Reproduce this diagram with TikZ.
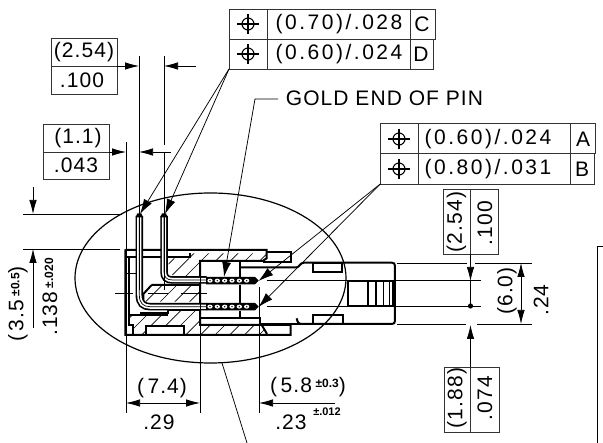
\documentclass[tikz,border=0pt]{standalone}
\usepackage{fontspec}
\setmainfont{Liberation Sans}[LetterSpace=5]
\newfontfamily\widefont{Liberation Sans}[LetterSpace=12]
\newfontfamily\tolfont{Liberation Sans}
\usetikzlibrary{arrows.meta}
\tikzset{
  txt/.style={inner sep=0pt,font=\fontsize{21}{21}\selectfont},
  fcftxt/.style={inner sep=0pt,font=\widefont\fontsize{21}{21}\selectfont},
  vtxt/.style={txt,rotate=90},
  boxline/.style={draw=black!80,line width=0.8pt},
  dimhead/.style={-{Latex[length=14pt,width=7.5pt]}},
  wedge/.style={-{Latex[length=15pt,width=9pt]}},
  heavy/.style={draw=black,line width=2pt},
  thinl/.style={draw=black,line width=0.75pt},
  hatchl/.style={draw=black,line width=0.7pt},
  ellipseline/.style={draw=black,line width=1.2pt},
}
\newcommand{\tolmark}[2]{%
  \draw[line width=1.1pt] (#1,#2) circle (6);
  \draw[line width=1.1pt] (#1-11,#2) -- (#1+11,#2) (#1,#2-10) -- (#1,#2+10);}
\newcommand{\hatchregion}[1]{%
  \begin{scope}
    \clip #1 -- cycle;
    \foreach \k in {-400,-356,...,1000} {\draw[hatchl] (\k,460) -- (\k+300,160);}
  \end{scope}}
\begin{document}
\begin{tikzpicture}[x=1pt,y=-1pt]
\useasboundingbox (0,0) rectangle (603,443);
\fill[white] (0,0) rectangle (603,443);
% ---------- connector, coordinates are triple size from (120,190)
\begin{scope}[shift={(120,190)},x=0.33333pt,y=-0.33333pt]
  \hatchregion{(145,205)--(210,205)--(210,190)--(440,190)--(440,205)--(428,213)--(240,213)--(240,258)--(160,258)--(147,245)}
  \hatchregion{(95,285)--(240,285)--(240,335)--(70,335)--(70,312)}
  \hatchregion{(26,375)--(145,375)--(145,362)--(240,362)--(240,405)--(425,405)--(440,435)--(192,435)--(192,408)--(78,408)--(78,435)--(38,435)--(38,405)--(26,405)}
  % body
  \draw[heavy] (16,178) -- (16,435) -- (512,435) -- (512,405) -- (425,405) -- (240,405) -- (240,213) -- (428,213) -- (440,205) -- (440,180) -- (16,180);
  \draw[heavy] (16,200) -- (210,200) -- (210,190);
  \draw[heavy] (26,200) -- (26,405) -- (38,405) -- (38,435);
  \draw[heavy] (440,186) -- (512,186) -- (512,215) -- (428,215);
  \draw[heavy] (78,435) -- (78,408) -- (192,408) -- (192,435);
  \draw[heavy] (425,405) -- (440,430) -- (440,435);
  \draw[heavy] (240,385) -- (420,385) -- (420,405);
  \draw[heavy] (360,213) -- (360,262) (360,285) -- (360,340) (360,362) -- (360,385);
  \draw[heavy] (95,285) -- (240,285) (70,312) -- (95,285) (70,312) -- (70,335);
  \draw[heavy] (60,368) -- (145,368) -- (145,360) -- (240,360);
  \draw[heavy] (26,375) -- (145,375);
  \draw[thinl] (16,250) -- (47,250);
  % right part of the housing
  \draw[heavy] (360,232) -- (530,232) .. controls (538,232) and (540,218) .. (552,218) -- (815,218) .. controls (822,218) and (825,221) .. (825,228) -- (825,392) .. controls (825,399) and (822,402) .. (815,402) -- (545,402) .. controls (535,402) and (532,395) .. (530,385);
  \draw[heavy] (420,402) -- (545,402);
  \draw[heavy] (578,218) rectangle (665,245);
  \draw[heavy] (578,375) rectangle (668,402);
  \draw[heavy] (685,272) rectangle (820,347);
  \draw[heavy] (745,272) -- (745,347) (768,272) -- (768,347);
  \draw[line width=1.2pt] (790,272) -- (790,347) (808,272) -- (808,347);
  % centre lines
  \draw[thinl] (440,270) -- (1083,270);
  \draw[thinl] (440,350) -- (1083,350);
  \draw[thinl] (-15,310) -- (40,310) (85,310) -- (145,310) (183,310) -- (260,310);
  % pins
  \foreach \w/\c in {7.5pt/black,4.2pt/white,0.7pt/black} {
    \draw[line width=\w,\c] (58,78) -- (58,315) .. controls (58,340) and (70,350) .. (90,350) -- (260,350);
    \draw[line width=\w,\c] (132,78) -- (132,245) .. controls (132,262) and (140,270) .. (158,270) -- (260,270);
  }
  \fill (47,82) -- (52,70) -- (64,70) -- (69,82) -- cycle;
  \fill (121,82) -- (126,70) -- (138,70) -- (143,82) -- cycle;
  % gold contacts
  \foreach \yy in {272,350} {
    \fill (258,\yy-11) -- (405,\yy-11) -- (416,\yy) -- (405,\yy+11) -- (258,\yy+11) -- cycle;
    \foreach \xx in {270,292,...,400} {\fill[white] (\xx,\yy) ellipse (8 and 6);\fill (\xx,\yy) circle (2.4);}
  }
\end{scope}
% ---------- ellipse
\draw[ellipseline] (210.5,278) ellipse (135.5 and 85);
\coordinate (lipEnd) at (247,443);
\coordinate (lipStart) at (222,363);
\draw[thinl] (lipStart) -- (lipEnd);
% ---------- top feature control frame
\node[fcftxt] (fcfC) at (339,24) {(0.70)/.028};
\node[fcftxt] (fcfD) at (339,54) {(0.60)/.024};
\node[txt] (fcfCl) at (422,24) {C};
\node[txt] (fcfDl) at (421,54) {D};
\draw[boxline] (229,9) rectangle (435,39) (229,39) rectangle (433,69) (267,9) -- (267,69) (410,9) -- (410,69);
\tolmark{248}{24}
\tolmark{248}{54}
\coordinate (fcfTop) at (229,69);
\coordinate (tipA) at (140,214);
\coordinate (tipB) at (165,214);
\draw[thinl,wedge] (fcfTop) -- (tipA);
\draw[thinl,wedge] (fcfTop) -- (tipB);
% ---------- right feature control frame
\node[fcftxt] (fcfA) at (488,139) {(0.60)/.024};
\node[fcftxt] (fcfB) at (488,169) {(0.80)/.031};
\node[txt] (fcfAl) at (583,139) {A};
\node[txt] (fcfBl) at (582,169) {B};
\draw[boxline] (380.3,123.7) rectangle (595.7,153.7) (380.3,153.7) rectangle (594.5,184) (418.3,123.7) -- (418.3,184) (570,123.7) -- (570,184);
\tolmark{399}{139}
\tolmark{399}{169}
\coordinate (fcfRight) at (380.3,184);
\coordinate (tipC) at (258.5,281);
\coordinate (tipD) at (258.5,307);
\draw[thinl,wedge] (fcfRight) -- (tipC);
\draw[thinl,wedge] (fcfRight) -- (tipD);
% ---------- gold end label
\node[txt] (gold) at (384.5,98) {GOLD END OF PIN};
\coordinate (goldA) at (278,99);
\coordinate (goldB) at (255,99);
\coordinate (goldTip) at (224,277);
\draw[thinl,wedge] (goldA) -- (goldB) -- (goldTip);
% ---------- (2.54) .100 horizontal dimension
\node[txt] (d254) at (84,52) {(2.54)};
\node[txt] (d100) at (82,80) {.100};
\draw[boxline] (51,38) rectangle (117,94) (51,66) -- (117,66);
\draw[thinl] (139,56) -- (139,290) (164,56) -- (164,145) (164,152) -- (164,290);
\coordinate (a1) at (117,66); \coordinate (a2) at (139,66);
\coordinate (a3) at (196,66); \coordinate (a4) at (164,66);
\draw[thinl,dimhead] (a1) -- (a2);
\draw[thinl,dimhead] (a3) -- (a4);
% ---------- (1.1) .043
\node[txt] (d11) at (78,138) {(1.1)};
\node[txt] (d043) at (76,165) {.043};
\draw[boxline] (43,124) rectangle (109,179) (43,152) -- (109,152);
\draw[thinl] (126,142) -- (126,413);
\coordinate (b1) at (109,152); \coordinate (b2) at (126,152);
\coordinate (b3) at (171,152); \coordinate (b4) at (139,152);
\draw[thinl,dimhead] (b1) -- (b2);
\draw[thinl,dimhead] (b3) -- (b4);
% ---------- left height dimension
\draw[thinl] (23,214) -- (122,214) (23,249) -- (120,249);
\coordinate (c1) at (33,187); \coordinate (c2) at (33,214);
\coordinate (c3) at (33,328); \coordinate (c4) at (33,249);
\draw[thinl,dimhead] (c1) -- (c2);
\draw[thinl,dimhead] (c3) -- (c4);
\node[vtxt] (d35) at (18,304) {(\,3.5\,{\tolfont\bfseries\fontsize{12}{12}\selectfont\raisebox{4pt}{±0.5}})};
\node[vtxt] (d138) at (50,297) {.138\,{\tolfont\bfseries\fontsize{12}{12}\selectfont\raisebox{4pt}{±.020}}};
% ---------- bottom dimensions
\draw[thinl] (200,268) -- (200,413) (259,287) -- (259,413);
\coordinate (e1) at (162,403); \coordinate (e2) at (126,403); \coordinate (e3) at (200,403);
\draw[thinl,dimhead] (e1) -- (e2);
\draw[thinl,dimhead] (e1) -- (e3);
\coordinate (f1) at (335,403); \coordinate (f2) at (259,403);
\draw[thinl,dimhead] (f1) -- (f2);
\node[txt] (d74) at (162,388) {(\,7.4)};
\node[txt] (d29) at (159,422) {.29};
\node[txt] (d58) at (308,387) {(\,5.8\,{\tolfont\bfseries\fontsize{12}{12}\selectfont\raisebox{5pt}{±0.3}})};
\node[txt] (d23) at (291,422) {.23};
\node[inner sep=0pt,font=\tolfont\bfseries\fontsize{11}{11}\selectfont] (d012) at (327,412) {±.012};
% ---------- right vertical dimensions
\draw[thinl] (397,263) -- (467,263) (475,263) -- (532,263);
\draw[thinl] (397,324) -- (466,324) (477,324) -- (532,324);
\node[vtxt] (r254) at (456.5,222) {(2.54)};
\node[vtxt] (r100) at (485,223) {.100};
\draw[boxline] (443,189) rectangle (498,254) (470.5,189) -- (470.5,254);
\coordinate (g1) at (470.5,254); \coordinate (g2) at (470.5,281);
\coordinate (g3) at (470.5,367); \coordinate (g4) at (470.5,325);
\draw[thinl,dimhead] (g1) -- (g2);
\draw[thinl] (g2) -- (470.5,306);
\draw[thinl,dimhead] (g3) -- (g4);
\fill (470.5,306) circle (2.6);
\coordinate (h0) at (521,293); \coordinate (h1) at (521,263); \coordinate (h2) at (521,324);
\draw[thinl,dimhead] (h0) -- (h1);
\draw[thinl,dimhead] (h0) -- (h2);
\node[vtxt] (d60) at (507,291) {(6.0)};
\node[vtxt] (d24) at (541,300) {.24};
\node[vtxt] (r188) at (457,398) {(1.88)};
\node[vtxt] (r074) at (485,398) {.074};
\draw[boxline] (444,367) rectangle (499,432) (470.5,367) -- (470.5,432);
% ---------- partial frame at the right
\draw[line width=1pt] (603,247) -- (597,247) -- (597,443);
\end{tikzpicture}
\end{document}
